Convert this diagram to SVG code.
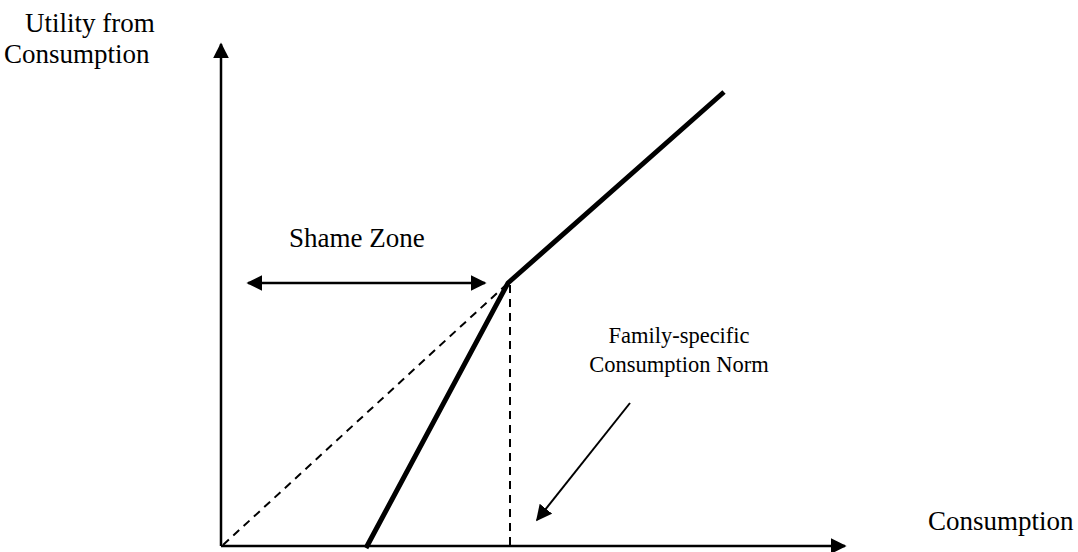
<svg xmlns="http://www.w3.org/2000/svg" width="1078" height="552" viewBox="0 0 1078 552">
<defs>
<style>
text{font-family:"Liberation Serif","Times New Roman",serif;fill:#000}
.ax{stroke:#000;stroke-width:2.5;fill:none}
.dash{stroke:#000;stroke-width:2;stroke-dasharray:8,6;fill:none}
.thick{stroke:#000;stroke-width:5;fill:none;stroke-linejoin:miter}
.thin{stroke:#000;stroke-width:2;fill:none}
.big{font-size:27px}
.small{font-size:22.5px}
</style>
<marker id="ah" viewBox="0 0 10 10" refX="9" refY="5" markerWidth="16" markerHeight="16" markerUnits="userSpaceOnUse" orient="auto-start-reverse">
<path d="M0,0 L10,5 L0,10 z" fill="#000"/>
</marker>
</defs>
<rect width="1078" height="552" fill="#fff"/>
<g id="connectors">
<line class="ax" x1="221" y1="546" x2="221" y2="44" marker-end="url(#ah)"/>
<line class="ax" x1="221" y1="546" x2="845" y2="546" marker-end="url(#ah)"/>
<line class="ax" x1="248" y1="283" x2="485" y2="283" marker-start="url(#ah)" marker-end="url(#ah)"/>
<line class="dash" x1="223" y1="545" x2="508" y2="283"/>
<line class="dash" x1="510" y1="285" x2="510" y2="546"/>
<polyline class="thick" points="366,548 508,283 724,92"/>
<line class="thin" x1="630" y1="403" x2="537" y2="520" marker-end="url(#ah)"/>
</g>
<g id="label-y">
<text class="big" x="25" y="32">Utility from</text>
<text class="big" x="4" y="63">Consumption</text>
</g>
<g id="label-x"><text class="big" x="928" y="530">Consumption</text></g>
<g id="label-shame"><text class="big" x="289" y="247">Shame Zone</text></g>
<g id="label-norm">
<text class="small" x="679" y="343" text-anchor="middle">Family-specific</text>
<text class="small" x="679" y="372" text-anchor="middle">Consumption Norm</text>
</g>
</svg>
